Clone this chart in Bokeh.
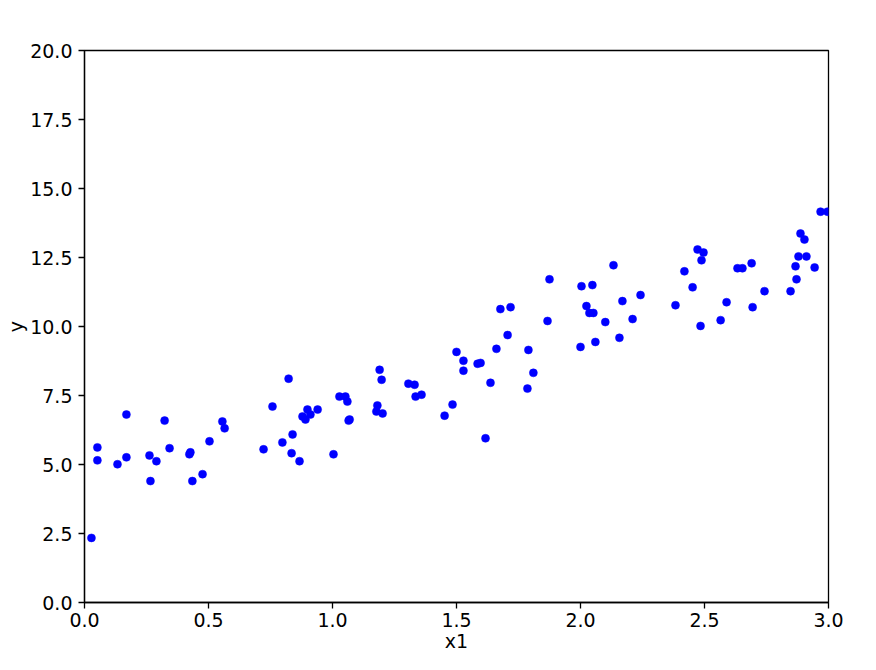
from bokeh.plotting import figure
from bokeh.models import FixedTicker, PrintfTickFormatter, Range1d
from bokeh.embed import file_html
from bokeh.resources import INLINE

x1 = [0.028, 0.052, 0.052, 0.133, 0.169, 0.169, 0.262, 0.266, 0.290, 0.323,
      0.343, 0.423, 0.427, 0.435, 0.476, 0.504, 0.556, 0.565, 0.722, 0.758,
      0.798, 0.823, 0.835, 0.839, 0.867, 0.879, 0.891, 0.899, 0.911, 0.940,
      1.004, 1.028, 1.052, 1.060, 1.065, 1.069, 1.177, 1.181, 1.190, 1.198,
      1.202, 1.306, 1.331, 1.335, 1.359, 1.452, 1.484, 1.500, 1.528, 1.528,
      1.585, 1.597, 1.617, 1.637, 1.661, 1.677, 1.706, 1.718, 1.786, 1.790,
      1.810, 1.867, 1.875, 2.000, 2.004, 2.024, 2.036, 2.048, 2.052, 2.060,
      2.100, 2.133, 2.157, 2.169, 2.210, 2.242, 2.383, 2.419, 2.452, 2.472,
      2.484, 2.488, 2.496, 2.565, 2.589, 2.633, 2.653, 2.690, 2.694, 2.742,
      2.847, 2.867, 2.871, 2.879, 2.887, 2.903, 2.911, 2.944, 2.968, 2.996]
y = [2.34, 5.62, 5.15, 5.01, 5.26, 6.81, 5.33, 4.40, 5.12, 6.59,
     5.59, 5.37, 5.44, 4.40, 4.65, 5.84, 6.56, 6.31, 5.55, 7.10,
     5.80, 8.11, 5.41, 6.09, 5.12, 6.74, 6.63, 6.99, 6.81, 6.99,
     5.37, 7.46, 7.46, 7.28, 6.59, 6.63, 6.92, 7.14, 8.43, 8.07,
     6.85, 7.93, 7.89, 7.46, 7.53, 6.77, 7.17, 9.08, 8.76, 8.40,
     8.65, 8.68, 5.95, 7.96, 9.19, 10.63, 9.69, 10.70, 7.75, 9.15,
     8.32, 10.20, 11.71, 9.26, 11.46, 10.74, 10.49, 11.50, 10.49, 9.44,
     10.16, 12.22, 9.59, 10.92, 10.27, 11.14, 10.77, 12.00, 11.42, 12.79,
     10.02, 12.40, 12.68, 10.23, 10.88, 12.11, 12.11, 12.29, 10.70, 11.28,
     11.28, 12.18, 11.71, 12.54, 13.37, 13.15, 12.54, 12.14, 14.16, 14.16]

x_ticks = [0.0, 0.5, 1.0, 1.5, 2.0, 2.5, 3.0]
y_ticks = [0.0, 2.5, 5.0, 7.5, 10.0, 12.5, 15.0, 17.5, 20.0]

p = figure(width=860, height=654, output_backend="svg", toolbar_location=None,
           x_range=Range1d(0, 3), y_range=Range1d(0, 20),
           min_border_left=84, min_border_right=32,
           min_border_top=50, min_border_bottom=49)

p.scatter(x1, y, size=8, color="#0000ff", line_color="#0000ff", line_width=0.5)

p.grid.visible = False
p.outline_line_color = "black"
p.outline_line_width = 1.3
p.background_fill_color = "white"
p.border_fill_color = "white"

p.xaxis.ticker = FixedTicker(ticks=x_ticks)
p.yaxis.ticker = FixedTicker(ticks=y_ticks)
p.xaxis.formatter = PrintfTickFormatter(format="%.1f")
p.yaxis.formatter = PrintfTickFormatter(format="%.1f")

for ax in (p.xaxis, p.yaxis):
    ax.axis_line_color = "black"
    ax.axis_line_width = 1.3
    ax.major_tick_line_color = "black"
    ax.major_tick_line_width = 1.3
    ax.major_tick_out = 6
    ax.major_tick_in = 0
    ax.minor_tick_line_color = None
    ax.major_label_text_font = "DejaVu Sans"
    ax.major_label_text_font_size = "19px"
    ax.major_label_text_color = "black"
    ax.axis_label_text_font = "DejaVu Sans"
    ax.axis_label_text_font_size = "19px"
    ax.axis_label_text_font_style = "normal"
    ax.axis_label_text_color = "black"

p.xaxis.axis_label = "x1"
p.yaxis.axis_label = "y"
p.xaxis.axis_label_standoff = 0
p.yaxis.axis_label_standoff = 0
p.xaxis.major_label_standoff = 4
p.yaxis.major_label_standoff = 6

open("out.html", "w").write(file_html(p, INLINE))
